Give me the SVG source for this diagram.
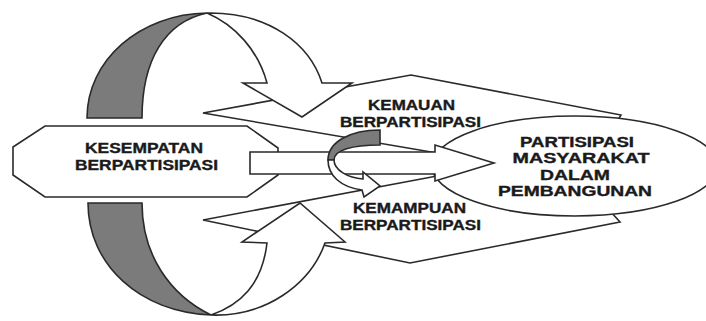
<svg xmlns="http://www.w3.org/2000/svg" width="706" height="321" viewBox="0 0 706 321">
<style>
.s{fill:#fff;stroke:#2a2a2a;stroke-width:1.6;stroke-linejoin:miter}
.d{fill:#7b7b7b;stroke:#2a2a2a;stroke-width:1.6}
text{font-family:"Liberation Sans",Arial,sans-serif;font-weight:bold;font-size:14px;fill:#1a1a1a;stroke:#1a1a1a;stroke-width:0.35;text-anchor:middle}
</style>
<rect width="706" height="321" fill="#fff"/>
<g id="connectors">
<g id="kemauan-funnel"><path class="s" d="M203,113 L411,75 L621,115 L600,150 L437,153 Z"/></g>
<g id="kemampuan-funnel"><path class="s" d="M203,220 L437,176 L600,200 L620,222 L410,263 Z"/></g>
</g>
<g id="partisipasi"><ellipse class="s" cx="575" cy="166" rx="143" ry="50"/></g>
<g id="kesempatan"><path class="s" d="M45,126 L247,126 L278,148 L278,175 L247,197 L45,197 L13,175 L13,147 Z"/></g>
<g id="main-arrow"><path class="s" d="M250,152 L435,152 L435,145 L494,163 L435,181 L435,174 L250,174 Z"/></g>
<g id="u-arrow">
<path class="d" d="M380,130 C350,130 328,142 328,160 L334,160 C334,150 352,145 380,145 Z"/>
<path class="s" d="M328,160 C328,175 340,187 362,190 L364,197 L380,186 L363,172 L363,179 C348,178 334,170 334,160 Z"/>
</g>
<g id="top-loop">
<path class="d" d="M87,118 C87,60 140,14 207,13 C165,22 142,60 142,118 Z"/>
<path class="s" d="M207,13 C270,12 310,45 322,83 L352,83 L302,117 L243,83 L267,83 C258,50 235,25 207,13 Z"/>
</g>
<g id="bottom-loop">
<path class="d" d="M88,203 C88,265 140,312 211,315 C170,295 142,255 142,203 Z"/>
<path class="s" d="M211,315 C265,317 310,285 325,243 L345,242 L300,203 L242,242 L267,243 C262,285 240,305 211,315 Z"/>
</g>
<g id="labels">
<text x="144" y="153" textLength="118" lengthAdjust="spacingAndGlyphs">KESEMPATAN</text>
<text x="146.5" y="170" textLength="143" lengthAdjust="spacingAndGlyphs">BERPARTISIPASI</text>
<text x="411.5" y="110" textLength="87" lengthAdjust="spacingAndGlyphs">KEMAUAN</text>
<text x="410.5" y="127" textLength="141" lengthAdjust="spacingAndGlyphs">BERPARTISIPASI</text>
<text x="409.5" y="213" textLength="113" lengthAdjust="spacingAndGlyphs">KEMAMPUAN</text>
<text x="410.5" y="230" textLength="141" lengthAdjust="spacingAndGlyphs">BERPARTISIPASI</text>
<text x="577" y="147" textLength="114" lengthAdjust="spacingAndGlyphs">PARTISIPASI</text>
<text x="581" y="163" textLength="137" lengthAdjust="spacingAndGlyphs">MASYARAKAT</text>
<text x="575" y="180" textLength="70" lengthAdjust="spacingAndGlyphs">DALAM</text>
<text x="575" y="196" textLength="154" lengthAdjust="spacingAndGlyphs">PEMBANGUNAN</text>
</g>
</svg>
